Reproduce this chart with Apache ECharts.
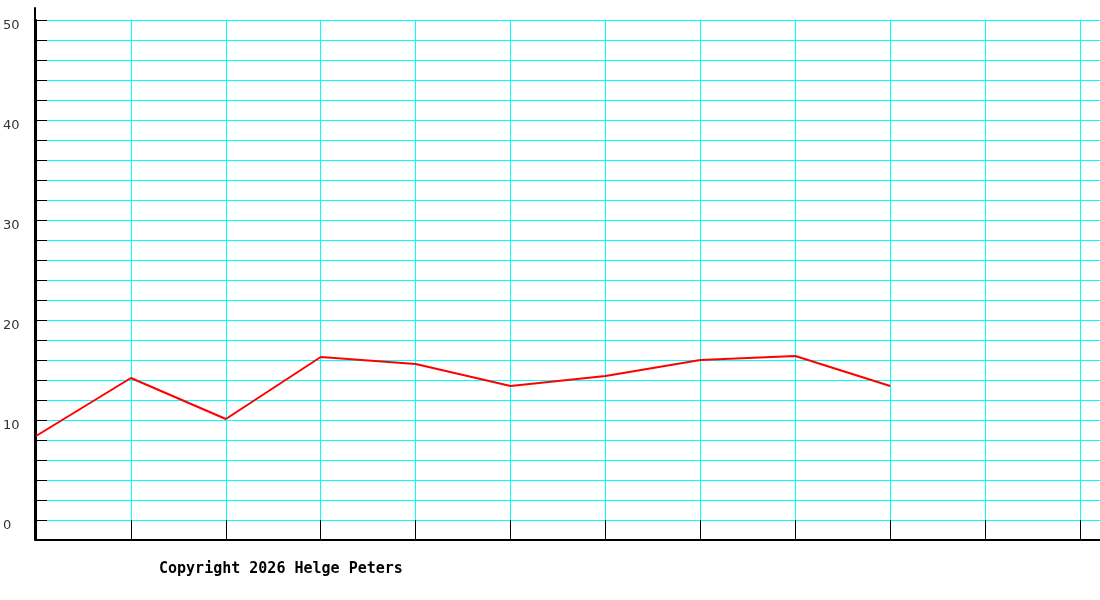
<!DOCTYPE html>
<html>
<head>
<meta charset="utf-8">
<script src="https://cdn.jsdelivr.net/npm/echarts@6/dist/echarts.min.js"></script>
<style>
  html, body { margin: 0; padding: 0; background: #fff; }
  #chart { width: 1100px; height: 600px; }
</style>
</head>
<body>
<div id="chart"></div>
<script>
// Positionen auf der x-Achse (Spalten 0..9) und Messwerte
const slots = [0, 1, 2, 3, 4, 5, 6, 7, 8, 9]
const values = [8.4, 14.2, 10.1, 16.3, 15.6, 13.4, 14.4, 16.0, 16.4, 13.4]
const yLabels = [0, 10, 20, 30, 40, 50]
const footer = 'Copyright 2026 Helge Peters'

const data = slots.map((s, i) => [s, values[i]])

const myChart = echarts.init(document.getElementById('chart'), null, { renderer: 'canvas' })
const option = {
  animation: false,
  backgroundColor: '#fff',
  title: {
    text: footer,
    left: 159,
    top: 562,
    padding: 0,
    textStyle: { fontFamily: 'DejaVu Sans Mono', fontSize: 15, fontWeight: 'bold', color: '#000' }
  },
  grid: [
    { left: 35, right: 0, top: 20, bottom: 60 },
    // nur fuer die etwas laengere y-Achsenlinie
    { left: 35, right: 0, top: 8, bottom: 60 }
  ],
  xAxis: [
    {
      type: 'value',
      gridIndex: 0,
      min: 0,
      max: 1065 / 95,
      interval: 1,
      axisLine: { show: true, onZero: false, lineStyle: { color: '#000', width: 2 } },
      axisTick: { show: true, inside: true, length: 20, lineStyle: { color: '#000', width: 1 } },
      axisLabel: { show: false },
      splitLine: { show: true, lineStyle: { color: '#00ffff', width: 1 } }
    },
    {
      type: 'value', gridIndex: 1, show: false
    }
  ],
  yAxis: [
    {
      type: 'value',
      gridIndex: 0,
      min: -2,
      max: 50,
      interval: 2,
      axisLine: { show: true, onZero: false, lineStyle: { color: '#000', width: 2 } },
      axisTick: { show: true, inside: true, length: 11, lineStyle: { color: '#000', width: 1 } },
      axisLabel: {
        show: true,
        align: 'left',
        verticalAlign: 'top',
        lineHeight: 11,
        margin: 33,
        color: '#333',
        fontFamily: 'DejaVu Sans',
        fontSize: 13,
        formatter: (v) => (yLabels.indexOf(v) >= 0 ? String(v) : '')
      },
      splitLine: { show: true, lineStyle: { color: '#00ffff', width: 1 } }
    },
    {
      type: 'value',
      gridIndex: 1,
      axisLine: { show: true, onZero: false, lineStyle: { color: '#000', width: 2 } },
      axisTick: { show: false },
      axisLabel: { show: false },
      splitLine: { show: false }
    }
  ],
  series: [
    {
      type: 'line',
      xAxisIndex: 0,
      yAxisIndex: 0,
      data: data,
      showSymbol: false,
      symbol: 'none',
      lineStyle: { color: '#ff0000', width: 2 },
      z: 10
    }
  ]
}
myChart.setOption(option, true)
</script>
</body>
</html>
